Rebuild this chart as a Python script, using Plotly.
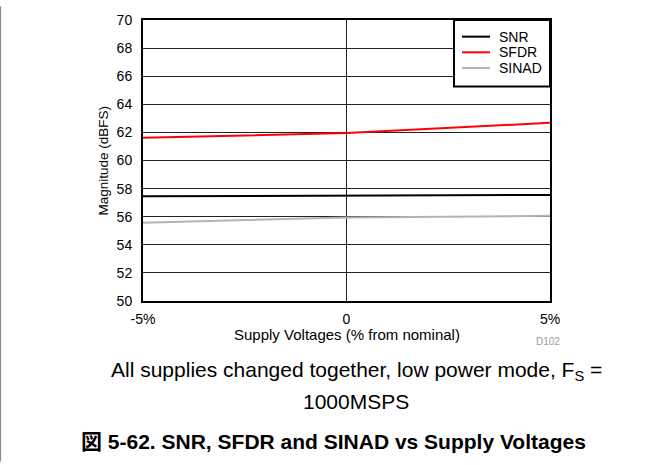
import plotly.graph_objects as go

# Supply voltage deviation (% from nominal)
supply_pct = [-5, 0, 5]

# Measured dynamic performance (dBFS)
snr = [57.45, 57.50, 57.55]
sfdr = [61.62, 61.95, 62.68]
sinad = [55.57, 55.95, 56.06]

series_names = ["SNR", "SFDR", "SINAD"]
series_colors = ["black", "#ff0000", "#b3b3b3"]

x_tickvals = [-5, 0, 5]
x_ticktext = ["-5%", "0", "5%"]
y_tickvals = list(range(50, 71, 2))

W, H = 664, 465
L, R, T, B = 143, 114, 14, 164
PW = W - L - R
PH = H - T - B

FONT = "Arial, Liberation Sans, Noto Sans CJK JP, sans-serif"

fig = go.Figure()
for name, ys, col in zip(series_names, [snr, sfdr, sinad], series_colors):
    fig.add_trace(go.Scatter(x=supply_pct, y=ys, mode="lines", name=name,
                             line=dict(color=col, width=2), showlegend=False))


def px_x(p):
    return (p - L) / PW


def px_y(p):
    return (H - B - p) / PH


annotations = [
    dict(text="Magnitude (dBFS)", x=px_x(103), y=0.5, xref="paper", yref="paper",
         textangle=-90, showarrow=False, font=dict(size=13.5, color="black", family=FONT),
         xanchor="center", yanchor="middle"),
    dict(text="Supply Voltages (% from nominal)", x=0.5, y=px_y(335), xref="paper",
         yref="paper", showarrow=False, font=dict(size=15, color="black", family=FONT),
         xanchor="center", yanchor="middle"),
    dict(text="D102", x=px_x(548), y=px_y(342), xref="paper", yref="paper",
         showarrow=False, font=dict(size=10, color="#999999", family=FONT),
         xanchor="center", yanchor="middle"),
    dict(text="All supplies changed together, low power mode, F<sub>S</sub> =",
         x=px_x(356), y=px_y(373), xref="paper", yref="paper", showarrow=False,
         font=dict(size=21, color="black", family=FONT), xanchor="center", yanchor="middle"),
    dict(text="1000MSPS", x=px_x(356), y=px_y(404), xref="paper", yref="paper",
         showarrow=False, font=dict(size=21, color="black", family=FONT),
         xanchor="center", yanchor="middle"),
    dict(text="<b>図 5-62. SNR, SFDR and SINAD vs Supply Voltages</b>",
         x=px_x(333), y=px_y(444), xref="paper", yref="paper", showarrow=False,
         font=dict(size=21, color="black", family=FONT), xanchor="center", yanchor="middle"),
]

shapes = [
    dict(type="line", xref="paper", yref="paper", x0=px_x(0.5), x1=px_x(0.5),
         y0=px_y(0), y1=px_y(H), line=dict(color="#8c8c8c", width=1.2)),
    # legend box
    dict(type="rect", xref="paper", yref="paper", x0=px_x(454), x1=1,
         y0=px_y(82), y1=1, fillcolor="white", line=dict(color="black", width=2),
         layer="above"),
]

# legend entries: sample line + label
for i, (name, col) in enumerate(zip(series_names, series_colors)):
    yy = px_y(31 + 16 * i)
    shapes.append(dict(type="line", xref="paper", yref="paper",
                       x0=px_x(462), x1=px_x(490), y0=yy, y1=yy,
                       line=dict(color=col, width=2), layer="above"))
    annotations.append(dict(text=name, x=px_x(497), y=yy, xref="paper", yref="paper",
                            showarrow=False, xanchor="left", yanchor="middle",
                            font=dict(size=14, color="black", family=FONT)))

fig.update_layout(
    width=W, height=H,
    margin=dict(l=L, r=R, t=T, b=B),
    paper_bgcolor="white", plot_bgcolor="white",
    font=dict(family=FONT, size=13, color="black"),
    showlegend=False,
    annotations=annotations,
    shapes=shapes,
)

fig.update_xaxes(range=[-5, 5], tickvals=x_tickvals, ticktext=x_ticktext,
                 showgrid=True, gridcolor="#222222", gridwidth=1,
                 showline=True, linecolor="black", linewidth=2, mirror=True,
                 ticks="", zeroline=False, ticklabelstandoff=4,
                 tickfont=dict(size=14, color="black", family=FONT))
fig.update_yaxes(range=[50, 70], tickvals=y_tickvals,
                 showgrid=True, gridcolor="#222222", gridwidth=1,
                 showline=True, linecolor="black", linewidth=2, mirror=True,
                 ticks="", zeroline=False, ticklabelstandoff=6,
                 tickfont=dict(size=14, color="black", family=FONT))

fig.write_html("out.html")
